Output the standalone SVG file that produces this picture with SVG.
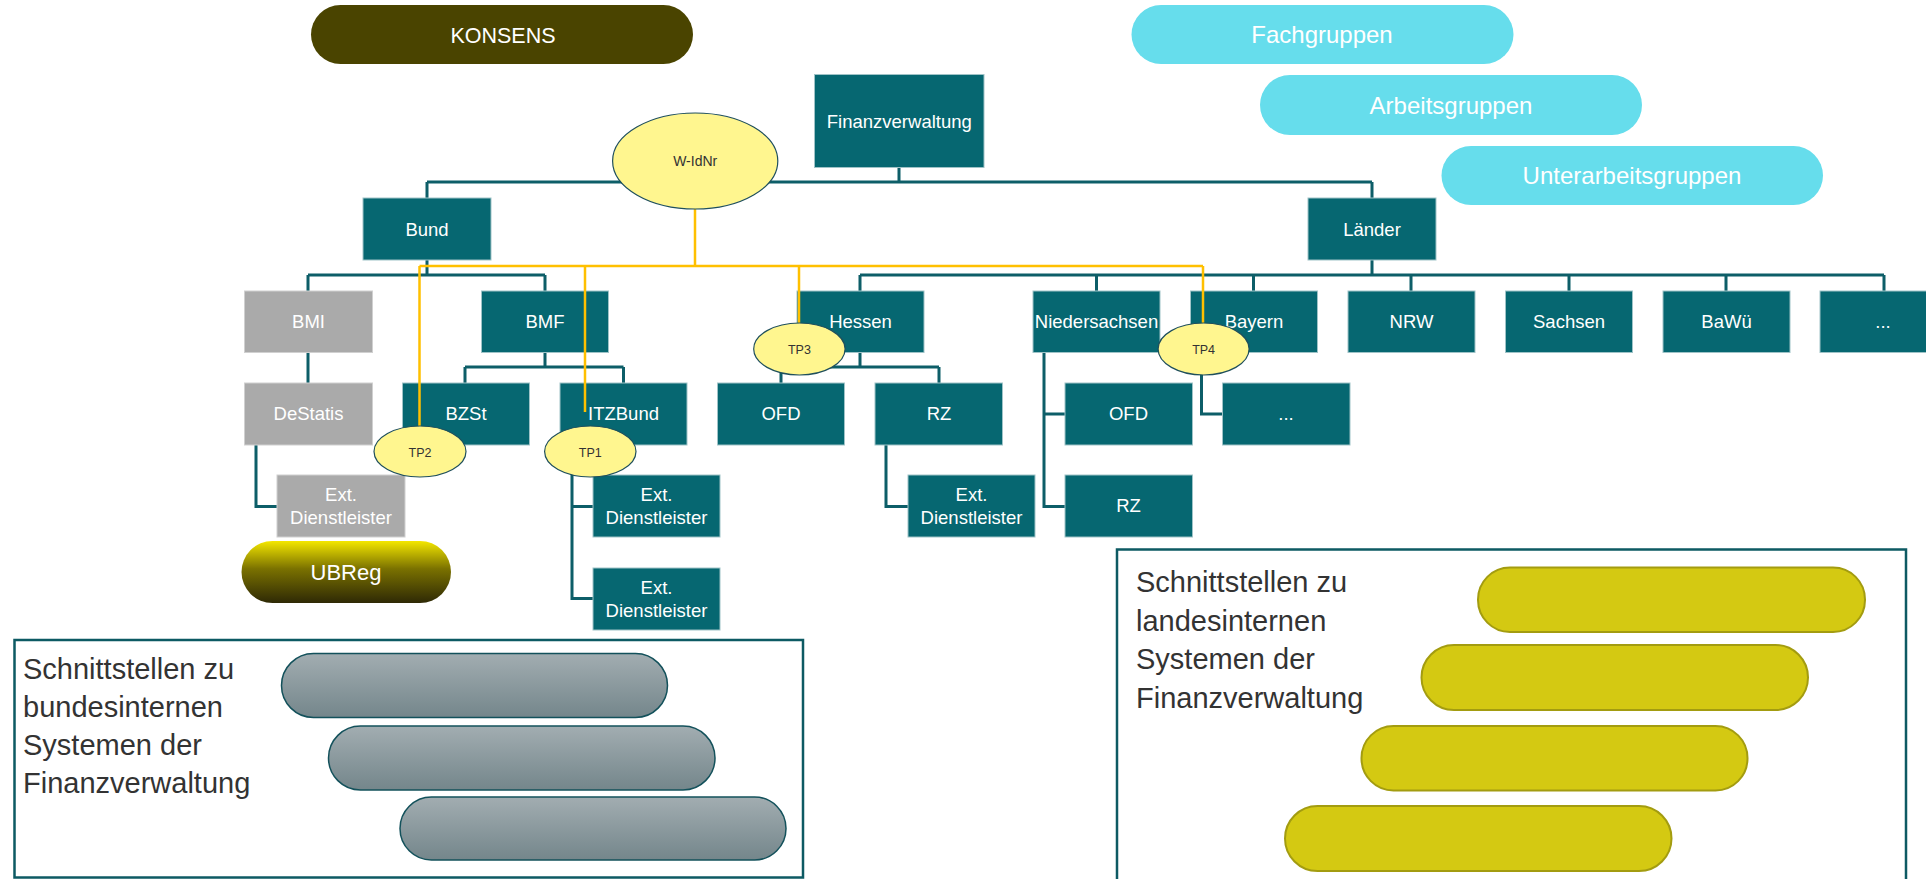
<svg xmlns="http://www.w3.org/2000/svg" width="1926" height="879" viewBox="0 0 1926 879">
<defs>
<linearGradient id="gUB" x1="0" y1="0" x2="0" y2="1">
<stop offset="0" stop-color="#f4e700"/>
<stop offset="0.45" stop-color="#7a7100"/>
<stop offset="1" stop-color="#2e2905"/>
</linearGradient>
<linearGradient id="gGray" x1="0" y1="0" x2="0" y2="1">
<stop offset="0" stop-color="#a2adb1"/>
<stop offset="1" stop-color="#74868b"/>
</linearGradient>
<style>
.t{font-family:"Liberation Sans",Arial,sans-serif;}
.box{fill:#066771;stroke:#9fc3c7;stroke-width:1;}
.gbox{fill:#aaaaaa;stroke:#d0d0d0;stroke-width:1;}
.nt{fill:#ffffff;font-size:18.5px;text-anchor:middle;}
.con{fill:none;stroke:#0d5e68;stroke-width:3;}
.yl{fill:none;stroke:#ffc000;stroke-width:2.5;}
.tp{fill:#fff68f;stroke:#1f4f5c;stroke-width:1.2;}
.tpt{fill:#333333;font-size:12.5px;text-anchor:middle;}
.cy{fill:#66ddec;}
.cyt{fill:#ffffff;font-size:24px;text-anchor:middle;}
.frame{fill:none;stroke:#0d5a63;stroke-width:2.5;}
.bt{fill:#333333;font-size:29px;}
.gp{fill:url(#gGray);stroke:#13515b;stroke-width:1.5;}
.yp{fill:#d4c912;stroke:#a39c10;stroke-width:2;}
</style>
</defs>

<!-- frames -->
<g id="frame-bund">
<rect class="frame" x="14.5" y="640" width="788.5" height="237.5"/>
<text class="t bt" x="23" y="679">Schnittstellen zu</text>
<text class="t bt" x="23" y="717">bundesinternen</text>
<text class="t bt" x="23" y="755">Systemen der</text>
<text class="t bt" x="23" y="793">Finanzverwaltung</text>
<rect class="gp" x="281.5" y="653.5" width="386" height="64" rx="32"/>
<rect class="gp" x="328.5" y="726" width="386.5" height="64" rx="32"/>
<rect class="gp" x="400" y="797" width="386" height="63" rx="31.5"/>
</g>
<g id="frame-laender">
<rect class="frame" x="1117" y="549.5" width="789" height="340"/>
<text class="t bt" x="1136" y="592">Schnittstellen zu</text>
<text class="t bt" x="1136" y="630.5">landesinternen</text>
<text class="t bt" x="1136" y="669">Systemen der</text>
<text class="t bt" x="1136" y="707.5">Finanzverwaltung</text>
<rect class="yp" x="1478" y="567.5" width="387" height="64.5" rx="32"/>
<rect class="yp" x="1421.5" y="645" width="386.5" height="65" rx="32.5"/>
<rect class="yp" x="1361.5" y="726" width="386" height="64.5" rx="32"/>
<rect class="yp" x="1285" y="806" width="386.5" height="65" rx="32.5"/>
</g>

<!-- top pills -->
<g id="konsens">
<rect x="311" y="5" width="382" height="59" rx="29.5" fill="#4a4400"/>
<text class="t" x="503" y="42.5" fill="#ffffff" font-size="21.5" text-anchor="middle">KONSENS</text>
</g>
<g id="fachgruppen">
<rect class="cy" x="1131.5" y="5" width="382" height="59" rx="29.5"/>
<text class="t cyt" x="1322" y="43">Fachgruppen</text>
</g>
<g id="arbeitsgruppen">
<rect class="cy" x="1260" y="75" width="382" height="60" rx="30"/>
<text class="t cyt" x="1451" y="113.5">Arbeitsgruppen</text>
</g>
<g id="unterarbeitsgruppen">
<rect class="cy" x="1441.5" y="146" width="381.5" height="59" rx="29.5"/>
<text class="t cyt" x="1632" y="184">Unterarbeitsgruppen</text>
</g>

<!-- teal connectors -->
<g id="connectors">
<path class="con" d="M899,167 V182 M427,182 H1372 M427,182 V198 M1372,182 V198"/>
<path class="con" d="M427,260 V275 M308,275 H545 M308,275 V291 M545,275 V291"/>
<path class="con" d="M1372,260 V275 M860,275 H1884 M860,275 V291 M1096.5,275 V291 M1253.5,275 V291 M1411,275 V291 M1569,275 V291 M1726,275 V291 M1884,275 V291"/>
<path class="con" d="M308,352 V383"/>
<path class="con" d="M545,352 V367 M465,367 H623.5 M465,367 V383 M623.5,367 V383"/>
<path class="con" d="M860,352 V367 M781,367 H939 M781,367 V383 M939,367 V383"/>
<path class="con" d="M256,445 V506.5 H277"/>
<path class="con" d="M572,445 V598.5 H593 M572,506.5 H593"/>
<path class="con" d="M886,445 V506.5 H908"/>
<path class="con" d="M1044,352 V506.5 H1065 M1044,414 H1065"/>
<path class="con" d="M1201.5,352 V414 H1222.5"/>
</g>

<!-- nodes -->
<g id="finanzverwaltung"><rect class="box" x="814.5" y="74.5" width="169.5" height="93"/><text class="t nt" x="899.3" y="128" font-size="19">Finanzverwaltung</text></g>
<g id="bund"><rect class="box" x="363" y="198" width="128" height="62"/><text class="t nt" x="427" y="235.5">Bund</text></g>
<g id="laender"><rect class="box" x="1308" y="198" width="128" height="62"/><text class="t nt" x="1372" y="235.5">Länder</text></g>

<g id="bmi"><rect class="gbox" x="244.5" y="291" width="128" height="61.5"/><text class="t nt" x="308.5" y="328">BMI</text></g>
<g id="bmf"><rect class="box" x="481.5" y="291" width="127" height="61.5"/><text class="t nt" x="545" y="328">BMF</text></g>
<g id="hessen"><rect class="box" x="797" y="291" width="127" height="61.5"/><text class="t nt" x="860.5" y="328">Hessen</text></g>
<g id="niedersachsen"><rect class="box" x="1033" y="291" width="127" height="61.5"/><text class="t nt" x="1096.5" y="328">Niedersachsen</text></g>
<g id="bayern"><rect class="box" x="1190.5" y="291" width="127" height="61.5"/><text class="t nt" x="1254" y="328">Bayern</text></g>
<g id="nrw"><rect class="box" x="1348" y="291" width="127" height="61.5"/><text class="t nt" x="1411.5" y="328">NRW</text></g>
<g id="sachsen"><rect class="box" x="1505.5" y="291" width="127" height="61.5"/><text class="t nt" x="1569" y="328">Sachsen</text></g>
<g id="bawue"><rect class="box" x="1663" y="291" width="127" height="61.5"/><text class="t nt" x="1726.5" y="328">BaWü</text></g>
<g id="laender-more"><rect class="box" x="1820" y="291" width="127" height="61.5"/><text class="t nt" x="1883" y="328">...</text></g>

<g id="destatis"><rect class="gbox" x="244.5" y="383" width="128" height="62"/><text class="t nt" x="308.5" y="420">DeStatis</text></g>
<g id="bzst"><rect class="box" x="402.5" y="383" width="127" height="62"/><text class="t nt" x="466" y="420">BZSt</text></g>
<g id="itzbund"><rect class="box" x="560" y="383" width="127" height="62"/><text class="t nt" x="623.5" y="420">ITZBund</text></g>
<g id="ofd-he"><rect class="box" x="717.5" y="383" width="127" height="62"/><text class="t nt" x="781" y="420">OFD</text></g>
<g id="rz-he"><rect class="box" x="875" y="383" width="127.5" height="62"/><text class="t nt" x="939" y="420">RZ</text></g>
<g id="ofd-ni"><rect class="box" x="1065" y="383" width="127.5" height="62"/><text class="t nt" x="1128.5" y="420">OFD</text></g>
<g id="by-more"><rect class="box" x="1222.5" y="383" width="127.5" height="62"/><text class="t nt" x="1286" y="420">...</text></g>

<g id="ext-bmi"><rect class="gbox" x="277" y="475" width="128" height="62"/><text class="t nt" x="341" y="500.5">Ext.</text><text class="t nt" x="341" y="524">Dienstleister</text></g>
<g id="ext-itz1"><rect class="box" x="593" y="475" width="127" height="62"/><text class="t nt" x="656.5" y="500.5">Ext.</text><text class="t nt" x="656.5" y="524">Dienstleister</text></g>
<g id="ext-itz2"><rect class="box" x="593" y="568" width="127" height="62"/><text class="t nt" x="656.5" y="593.5">Ext.</text><text class="t nt" x="656.5" y="617">Dienstleister</text></g>
<g id="ext-he"><rect class="box" x="908" y="475" width="127" height="62"/><text class="t nt" x="971.5" y="500.5">Ext.</text><text class="t nt" x="971.5" y="524">Dienstleister</text></g>
<g id="rz-ni"><rect class="box" x="1065" y="475" width="127.5" height="62"/><text class="t nt" x="1128.5" y="512">RZ</text></g>

<g id="ubreg"><rect x="241.5" y="541" width="209.5" height="62" rx="31" fill="url(#gUB)"/><text class="t" x="346" y="580" fill="#ffffff" font-size="22" text-anchor="middle">UBReg</text></g>

<!-- yellow connectors -->
<g id="tp-connectors">
<path class="yl" d="M695,209 V266 M419.5,266 H1203 M419.5,266 V426 M585,266 V412 M799,266 V323 M1203,266 V323"/>
</g>

<g id="w-idnr"><ellipse class="tp" cx="695.2" cy="161" rx="82.6" ry="48"/><text class="t" x="695.2" y="166" fill="#333333" font-size="14" text-anchor="middle">W-IdNr</text></g>
<g id="tp2"><ellipse class="tp" cx="420" cy="451.5" rx="46" ry="25.5"/><text class="t tpt" x="420" y="456.5">TP2</text></g>
<g id="tp1"><ellipse class="tp" cx="590.3" cy="451.5" rx="45.7" ry="25.5"/><text class="t tpt" x="590.3" y="456.5">TP1</text></g>
<g id="tp3"><ellipse class="tp" cx="799.4" cy="349" rx="45.7" ry="26"/><text class="t tpt" x="799.4" y="354">TP3</text></g>
<g id="tp4"><ellipse class="tp" cx="1203.6" cy="349" rx="45.5" ry="26"/><text class="t tpt" x="1203.6" y="354">TP4</text></g>
</svg>
